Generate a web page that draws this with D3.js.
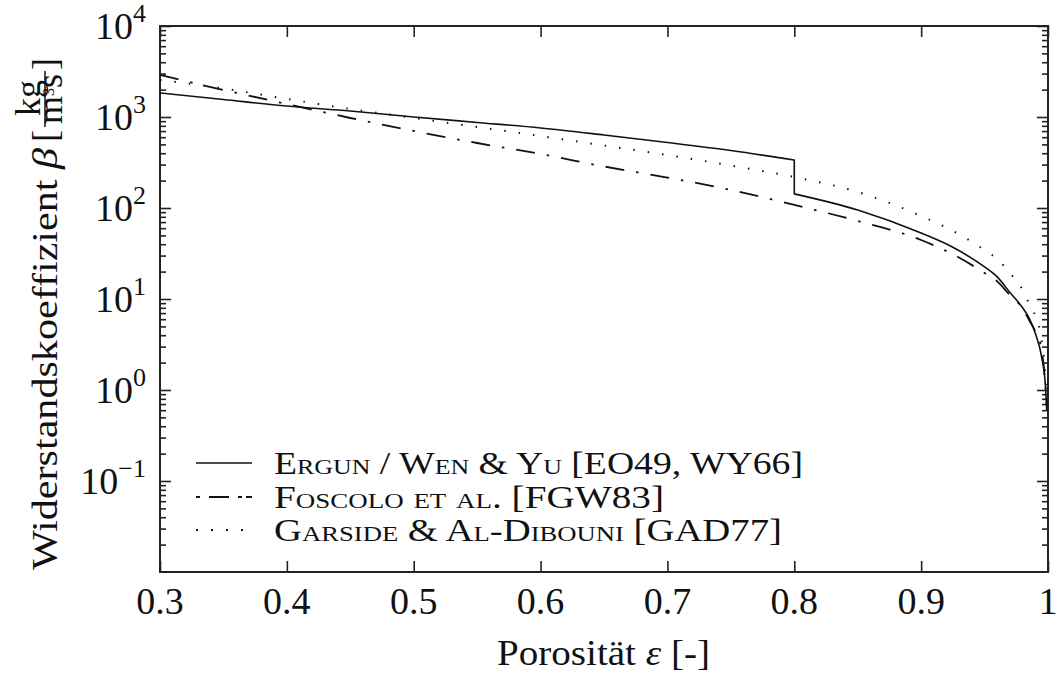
<!DOCTYPE html>
<html>
<head>
<meta charset="utf-8">
<script src="https://cdn.jsdelivr.net/npm/d3@7"></script>
<style>
  body { margin: 0; background: #fff; }
  svg { font-family: "Liberation Serif", "DejaVu Serif", serif; }
  .axes path { display: none; }
  .axes line { stroke: #222; stroke-width: 1.6; }
  .tickLabel { font-size: 38px; fill: #111; }
  .axisLabel { font-size: 36px; fill: #111; }
  .legendText { font-size: 32px; fill: #111; font-variant: small-caps; }
  .curve { fill: none; stroke: #111; }
</style>
</head>
<body>
<svg width="1062" height="674"></svg>
<script>
// porosity values
const porosityLow = [0.3, 0.35, 0.4, 0.45, 0.5, 0.55, 0.6, 0.65, 0.7, 0.75, 0.8];
const porosityHigh = [0.8, 0.85, 0.9, 0.925, 0.95, 0.96, 0.97, 0.98, 0.985, 0.99, 0.995, 0.998, 0.999];
const porosity = porosityLow.concat(porosityHigh.slice(1));

// Ergun (eps <= 0.8) and Wen & Yu (eps >= 0.8), kg/(m^3 s)
const ergun = [1836, 1556, 1321, 1164, 1000, 871, 757, 634, 525, 428, 336];
const wenYu = [143, 95, 53, 37, 22.5, 17.5, 11.8, 8.0, 6.2, 4.2, 2.3, 1.1, 0.6];
// Foscolo et al.
const foscolo = [2897, 1983, 1390, 975, 702, 518, 392, 286, 216, 158, 108, 72, 44.5, 31, 19.3, 15.6, 11.0, 7.9, 5.9, 4.4, 2.75, 1.1, 0.68];
// Garside & Al-Dibouni
const garside = [2552, 2057, 1578, 1225, 975, 776, 618, 486, 382, 293, 219, 150, 81.7, 56, 34.5, 27.5, 19.3, 12.6, 9.0, 6.5, 3.5, 1.39, 0.78];

const xTicks = [0.3, 0.4, 0.5, 0.6, 0.7, 0.8, 0.9, 1];
const xTickLabels = ["0.3", "0.4", "0.5", "0.6", "0.7", "0.8", "0.9", "1"];
const yTicks = [0.1, 1, 10, 100, 1000, 10000];
const yTickExponents = ["\u22121", "0", "1", "2", "3", "4"];

const legendLabels = [
  "Ergun / Wen & Yu [EO49, WY66]",
  "Foscolo et al. [FGW83]",
  "Garside & Al-Dibouni [GAD77]"
];

const plotLeft = 160, plotRight = 1048, plotTop = 26, plotBottom = 572;
const svg = d3.select("svg");

const x = d3.scaleLinear().domain([0.3, 1]).range([plotLeft, plotRight]);
const y = d3.scaleLog().domain([0.01, 10000]).range([plotBottom, plotTop]);

// minor ticks 2..9 per decade
const yMinor = [];
for (let e = -2; e < 4; e++) {
  for (let m = 2; m <= 9; m++) yMinor.push(m * Math.pow(10, e));
}

svg.append("g").attr("class", "axes").attr("transform", `translate(${plotLeft},0)`)
  .call(d3.axisLeft(y).tickValues(yMinor).tickSize(-6).tickFormat(""));
svg.append("g").attr("class", "axes").attr("transform", `translate(${plotLeft},0)`)
  .call(d3.axisLeft(y).tickValues(yTicks).tickSize(-11).tickFormat(""));
svg.append("g").attr("class", "axes").attr("transform", `translate(${plotRight},0)`)
  .call(d3.axisRight(y).tickValues(yMinor).tickSize(-6).tickFormat(""));
svg.append("g").attr("class", "axes").attr("transform", `translate(${plotRight},0)`)
  .call(d3.axisRight(y).tickValues(yTicks).tickSize(-11).tickFormat(""));
svg.append("g").attr("class", "axes").attr("transform", `translate(0,${plotBottom})`)
  .call(d3.axisBottom(x).tickValues(xTicks).tickSize(-11).tickFormat(""));
svg.append("g").attr("class", "axes").attr("transform", `translate(0,${plotTop})`)
  .call(d3.axisTop(x).tickValues(xTicks).tickSize(-11).tickFormat(""));

svg.append("rect")
  .attr("x", plotLeft).attr("y", plotTop)
  .attr("width", plotRight - plotLeft).attr("height", plotBottom - plotTop)
  .attr("fill", "none").attr("stroke", "#222").attr("stroke-width", 2);

// tick labels
svg.selectAll(".xLabel").data(xTicks).enter().append("text")
  .attr("class", "tickLabel")
  .attr("x", d => x(d)).attr("y", plotBottom + 42)
  .attr("text-anchor", "middle")
  .text((d, i) => xTickLabels[i]);

const yl = svg.selectAll(".yLabel").data(yTicks).enter().append("text")
  .attr("class", "tickLabel")
  .attr("x", plotLeft - 14).attr("y", d => y(d) + 13)
  .attr("text-anchor", "end");
yl.append("tspan").text("10");
yl.append("tspan").attr("font-size", "26px").attr("dy", -17).text((d, i) => yTickExponents[i]);

// axis labels
svg.append("text").attr("class", "axisLabel")
  .attr("x", 497).attr("y", 665)
  .attr("textLength", 213).attr("lengthAdjust", "spacingAndGlyphs")
  .html('Porosität <tspan font-style="italic">ε</tspan> [-]');

const yAxisLabel = svg.append("g").attr("transform", "translate(57,570) rotate(-90)");
yAxisLabel.append("text").attr("class", "axisLabel")
  .attr("x", 0).attr("y", 0)
  .attr("textLength", 422).attr("lengthAdjust", "spacingAndGlyphs")
  .html('Widerstandskoeffizient <tspan font-style="italic">β</tspan>');
yAxisLabel.append("text").attr("class", "axisLabel")
  .attr("x", 428).attr("y", 0).attr("font-size", "40px").text("[");
yAxisLabel.append("text").attr("class", "axisLabel")
  .attr("x", 472).attr("y", -17).attr("font-size", "23px").attr("text-anchor", "middle").text("kg");
yAxisLabel.append("line")
  .attr("x1", 443).attr("x2", 499).attr("y1", -12).attr("y2", -12)
  .attr("stroke", "#111").attr("stroke-width", 1.5);
yAxisLabel.append("text").attr("class", "axisLabel")
  .attr("x", 471).attr("y", 5).attr("font-size", "23px").attr("text-anchor", "middle")
  .html('m<tspan font-size="16px" dy="-8">3</tspan><tspan dy="8">s</tspan>');
yAxisLabel.append("text").attr("class", "axisLabel")
  .attr("x", 500).attr("y", 0).attr("font-size", "40px").text("]");

// curves
const line = d3.line()
  .x(d => x(d[0]))
  .y(d => y(d[1]))
  .curve(d3.curveMonotoneX);

const ergunPts = porosityLow.map((p, i) => [p, ergun[i]]);
const wenYuPts = porosityHigh.map((p, i) => [p, wenYu[i]]);
const jumpPts = [ergunPts[ergunPts.length - 1], wenYuPts[0]];

const solidPath = line(ergunPts) + d3.line().x(d => x(d[0])).y(d => y(d[1]))(jumpPts).replace("M", "L") + line(wenYuPts).replace("M", "L");

svg.append("path").attr("class", "curve")
  .attr("d", solidPath)
  .attr("stroke-width", 1.6);

svg.append("path").attr("class", "curve")
  .datum(porosity.map((p, i) => [p, foscolo[i]]))
  .attr("d", line)
  .attr("stroke-width", 1.8)
  .attr("stroke-dasharray", "19,12,2.5,12");

svg.append("path").attr("class", "curve")
  .datum(porosity.map((p, i) => [p, garside[i]]))
  .attr("d", line)
  .attr("stroke-width", 2)
  .attr("stroke-dasharray", "1.5,13");

// legend
const legendStyles = [
  { dash: null, width: 1.6 },
  { dash: "4,9,20,9,4", width: 1.8 },
  { dash: "2,13", width: 2 }
];
const legendRows = [463, 497, 530];
const legendWidths = [529, 390, 508];

const legend = svg.append("g");
legend.selectAll("line").data(legendLabels).enter().append("line")
  .attr("x1", 196).attr("x2", 252)
  .attr("y1", (d, i) => legendRows[i]).attr("y2", (d, i) => legendRows[i])
  .attr("stroke", "#111")
  .attr("stroke-width", (d, i) => legendStyles[i].width)
  .attr("stroke-dasharray", (d, i) => legendStyles[i].dash);
legend.selectAll("text").data(legendLabels).enter().append("text")
  .attr("class", "legendText")
  .attr("x", 274).attr("y", (d, i) => legendRows[i] + 11)
  .attr("textLength", (d, i) => legendWidths[i])
  .attr("lengthAdjust", "spacingAndGlyphs")
  .text(d => d);
</script>
</body>
</html>
